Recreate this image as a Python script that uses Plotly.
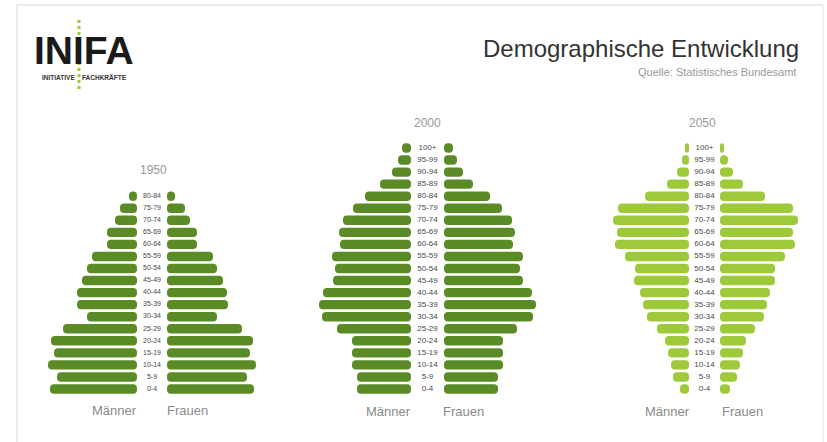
import plotly.graph_objects as go

W, H = 827, 442

ages = ["0-4", "5-9", "10-14", "15-19", "20-24", "25-29", "30-34", "35-39", "40-44",
        "45-49", "50-54", "55-59", "60-64", "65-69", "70-74", "75-79", "80-84",
        "85-89", "90-94", "95-99", "100+"]

ages_1950 = ages[:17]
men_1950 = [87, 80, 89, 83, 86, 74, 50, 60, 60, 55, 50, 45, 30, 30, 22, 17, 8]
women_1950 = [87, 80, 89, 83, 86, 75, 50, 61, 60, 56, 50, 46, 30, 30, 23, 18, 8]

men_2000 = [54, 54, 59, 59, 59, 74, 89, 92, 88, 78, 76, 79, 71, 72, 68, 58, 46, 31, 19, 13, 9]
women_2000 = [54, 54, 59, 59, 59, 73, 89, 92, 88, 79, 76, 79, 69, 71, 68, 58, 46, 29, 19, 13, 9]

men_2050 = [9, 16, 18, 21, 24, 32, 42, 46, 49, 55, 54, 64, 74, 72, 76, 71, 44, 22, 12, 7, 4]
women_2050 = [10, 17, 20, 23, 26, 35, 44, 47, 50, 55, 55, 65, 75, 73, 78, 73, 45, 23, 13, 8, 4]

years = ["1950", "2000", "2050"]
centers = [152, 427.5, 704.5]
half_gaps = [15, 16.5, 15.5]
colors = ["#5b8b26", "#5b8b26", "#9dc93a"]
label_sizes = [7, 8, 8]

data = [(ages_1950, men_1950, women_1950), (ages, men_2000, women_2000), (ages, men_2050, women_2050)]

fig = go.Figure()
axnames = ["x", "x2", "x3"]
for i, (cats, men, women) in enumerate(data):
    xa = axnames[i]
    g = half_gaps[i]
    fig.add_trace(go.Bar(y=cats, x=[-v for v in men], base=-g, orientation="h",
                         xaxis=xa, yaxis="y", width=0.78,
                         marker=dict(color=colors[i], cornerradius=5, line=dict(width=0)),
                         name="Männer " + years[i], showlegend=False))
    fig.add_trace(go.Bar(y=cats, x=women, base=g, orientation="h",
                         xaxis=xa, yaxis="y", width=0.78,
                         marker=dict(color=colors[i], cornerradius=5, line=dict(width=0)),
                         name="Frauen " + years[i], showlegend=False))
    fig.add_trace(go.Scatter(y=cats, x=[0] * len(cats), mode="text", text=cats,
                             textfont=dict(size=label_sizes[i], color="#4a4a4a",
                                           family="Liberation Sans, Arial, sans-serif"),
                             xaxis=xa, yaxis="y", showlegend=False, hoverinfo="skip"))

axis_common = dict(domain=[0, 1], showgrid=False, zeroline=False, showticklabels=False,
                   showline=False, ticks="", fixedrange=True)
layout_axes = {}
for i, name in enumerate(["xaxis", "xaxis2", "xaxis3"]):
    c = centers[i]
    ax = dict(axis_common, range=[-c, W - c])
    if i > 0:
        ax["overlaying"] = "x"
    layout_axes[name] = ax

# y grid: row 0 at y=389 px, spacing 12.05 px
row0, step = 389, 12.05
ylo = -(H - row0) / step
yhi = row0 / step
fig.update_layout(**layout_axes)
fig.update_layout(
    width=W, height=H, margin=dict(l=0, r=0, t=0, b=0),
    paper_bgcolor="white", plot_bgcolor="white",
    barmode="overlay",
    yaxis=dict(type="category", categoryorder="array", categoryarray=ages,
               range=[ylo, yhi], showgrid=False, zeroline=False, showticklabels=False,
               ticks="", showline=False, fixedrange=True),
    font=dict(family="Liberation Sans, Arial, sans-serif"),
)


def px(x):
    return x / W


def py(y):
    return 1 - y / H


def note(x, y, text, size, color, xanchor="center", family=None):
    f = dict(size=size, color=color)
    if family:
        f["family"] = family
    return dict(x=px(x), y=py(y), text=text, showarrow=False, xref="paper", yref="paper",
                xanchor=xanchor, yanchor="middle", font=f)


ann = []
title_pos = [(153, 170), (427, 123), (702, 123)]
for i, yr in enumerate(years):
    tx, ty = title_pos[i]
    ann.append(note(tx, ty, yr, 12, "#999999"))
mf = [(115, 187, 410), (388, 463, 411), (667, 742, 411)]
for mx, fx, yy in mf:
    ann.append(note(mx, yy, "Männer", 13, "#8a8a8a"))
    ann.append(note(fx, yy, "Frauen", 13, "#8a8a8a"))

ann.append(note(801, 48, "Demographische Entwicklung", 24, "#333333", xanchor="right"))
ann.append(note(798, 72, "Quelle: Statistisches Bundesamt", 11, "#999999", xanchor="right"))

# logo
ann.append(note(84, 50, "<b>INIFA</b>", 39, "#1a1a1a"))
ann.append(note(84, 77, "<b>INITIATIVE    FACHKRÄFTE</b>", 6.5, "#333333"))
fig.update_layout(annotations=ann)

shapes = [
    dict(type="line", xref="paper", yref="paper", x0=px(17), x1=px(823), y0=py(5), y1=py(5),
         line=dict(color="#d8d8d8", width=1)),
    dict(type="line", xref="paper", yref="paper", x0=px(17), x1=px(17), y0=py(5), y1=py(442),
         line=dict(color="#d8d8d8", width=1)),
    dict(type="line", xref="paper", yref="paper", x0=px(823), x1=px(823), y0=py(5), y1=py(442),
         line=dict(color="#e4e4e4", width=1)),
    dict(type="line", xref="paper", yref="paper", x0=px(79), x1=px(79), y0=py(20), y1=py(90),
         line=dict(color="#9dc93a", width=3, dash="dot"), layer="below"),
]
fig.update_layout(shapes=shapes)

fig.write_html("out.html", config={"displayModeBar": False},
               post_script="document.body.style.margin='0';document.body.style.overflow='hidden';")
